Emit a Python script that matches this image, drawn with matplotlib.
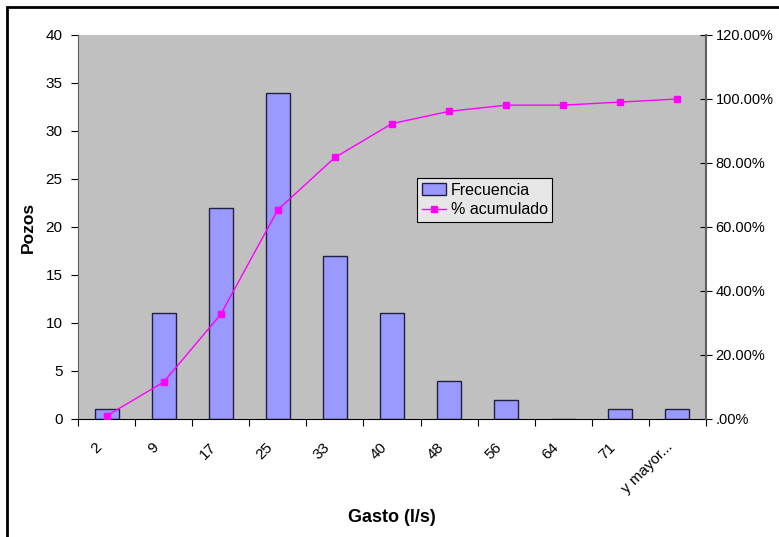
import matplotlib
matplotlib.use("Agg")
import matplotlib.pyplot as plt
from matplotlib.ticker import FuncFormatter, MultipleLocator
import numpy as np

plt.rcParams['font.family'] = ['Liberation Sans', 'DejaVu Sans']

categories = ["2", "9", "17", "25", "33", "40", "48", "56", "64", "71", "y mayor..."]
frecuencia = [1, 11, 22, 34, 17, 11, 4, 2, 0, 1, 1]
acumulado = [0.0096, 0.1154, 0.3269, 0.6538, 0.8173, 0.9231, 0.9615, 0.9808, 0.9808, 0.9904, 1.0]

fig = plt.figure(figsize=(7.79, 5.37), dpi=100)
ax = fig.add_axes([78 / 779, 1 - 419 / 537, 628 / 779, 384 / 537])
ax.set_facecolor("#c0c0c0")

x = np.arange(len(categories))
ax.bar(x, frecuencia, width=0.42, color="#9999ff", edgecolor="#202040",
       linewidth=1.0, label="Frecuencia", zorder=2)
ax.set_xlim(-0.5, len(categories) - 0.5)
ax.set_ylim(0, 40)
ax.yaxis.set_major_locator(MultipleLocator(5))

# category ticks sit on the boundaries; the rotated labels hang just left
# of each category centre so their upper end lines up under the bar
label_offset = 0.21
ax.set_xticks(np.arange(-0.5, len(categories), 1.0))
ax.set_xticklabels([])
ax.set_xticks(x - label_offset, minor=True)
ax.set_xticklabels(categories, minor=True, rotation=45, ha="right",
                   va="top", rotation_mode="anchor", fontsize=11)
ax.tick_params(axis="x", which="minor", length=0, pad=15)
ax.tick_params(axis="x", which="major", length=5, direction="out", width=0.8)
ax.tick_params(axis="y", length=5, direction="out", labelsize=11, width=0.8, pad=6)

for side in ["top", "right"]:
    ax.spines[side].set_visible(False)
ax.spines["left"].set_color("#606060")
ax.spines["bottom"].set_color("black")

ax2 = ax.twinx()
line, = ax2.plot(x, acumulado, color="#ff00ff", linewidth=1.0, marker="s",
                 markersize=5, label="% acumulado", zorder=3)
ax2.set_ylim(0, 1.2)
ax2.yaxis.set_major_locator(MultipleLocator(0.2))


def pct(v, _):
    s = f"{v * 100:.2f}%"
    return s[1:] if s.startswith("0.") else s


ax2.yaxis.set_major_formatter(FuncFormatter(pct))
ax2.tick_params(axis="y", length=8, direction="inout", labelsize=10.5, width=0.8, pad=3)
for side in ["top", "left", "bottom"]:
    ax2.spines[side].set_visible(False)
ax2.spines["right"].set_color("#606060")
ax2.spines["right"].set_linewidth(1.5)

ax.set_xlabel("Gasto (l/s)", fontsize=13, fontweight="bold", labelpad=0)
ax.xaxis.set_label_coords(0.5, -(517 - 419) / 384, transform=ax.transAxes)
ax.xaxis.label.set_va("center")
ax.set_ylabel("Pozos", fontsize=12.5, fontweight="bold")
ax.yaxis.set_label_coords(-(78 - 28) / 628, 0.5, transform=ax.transAxes)
ax.yaxis.label.set_va("center")

handles = [ax.patches[0], line]
leg = ax2.legend(handles, ["Frecuencia", "% acumulado"], loc="upper left",
                 bbox_to_anchor=(0.540, 0.628), borderaxespad=0,
                 fontsize=11.5, frameon=True,
                 fancybox=False, edgecolor="black", facecolor="#e6e6e6",
                 framealpha=1, borderpad=0.3, handlelength=1.5,
                 handletextpad=0.3, labelspacing=0.3)
leg.get_frame().set_linewidth(0.8)

# outer chart border
border = plt.Rectangle((7 / 779, -0.02), 1.1, 1 - 7 / 537 + 0.02,
                       transform=fig.transFigure, fill=False,
                       edgecolor="black", linewidth=2.0, clip_on=False)
fig.patches.append(border)

fig.savefig("out.png", dpi=100)
